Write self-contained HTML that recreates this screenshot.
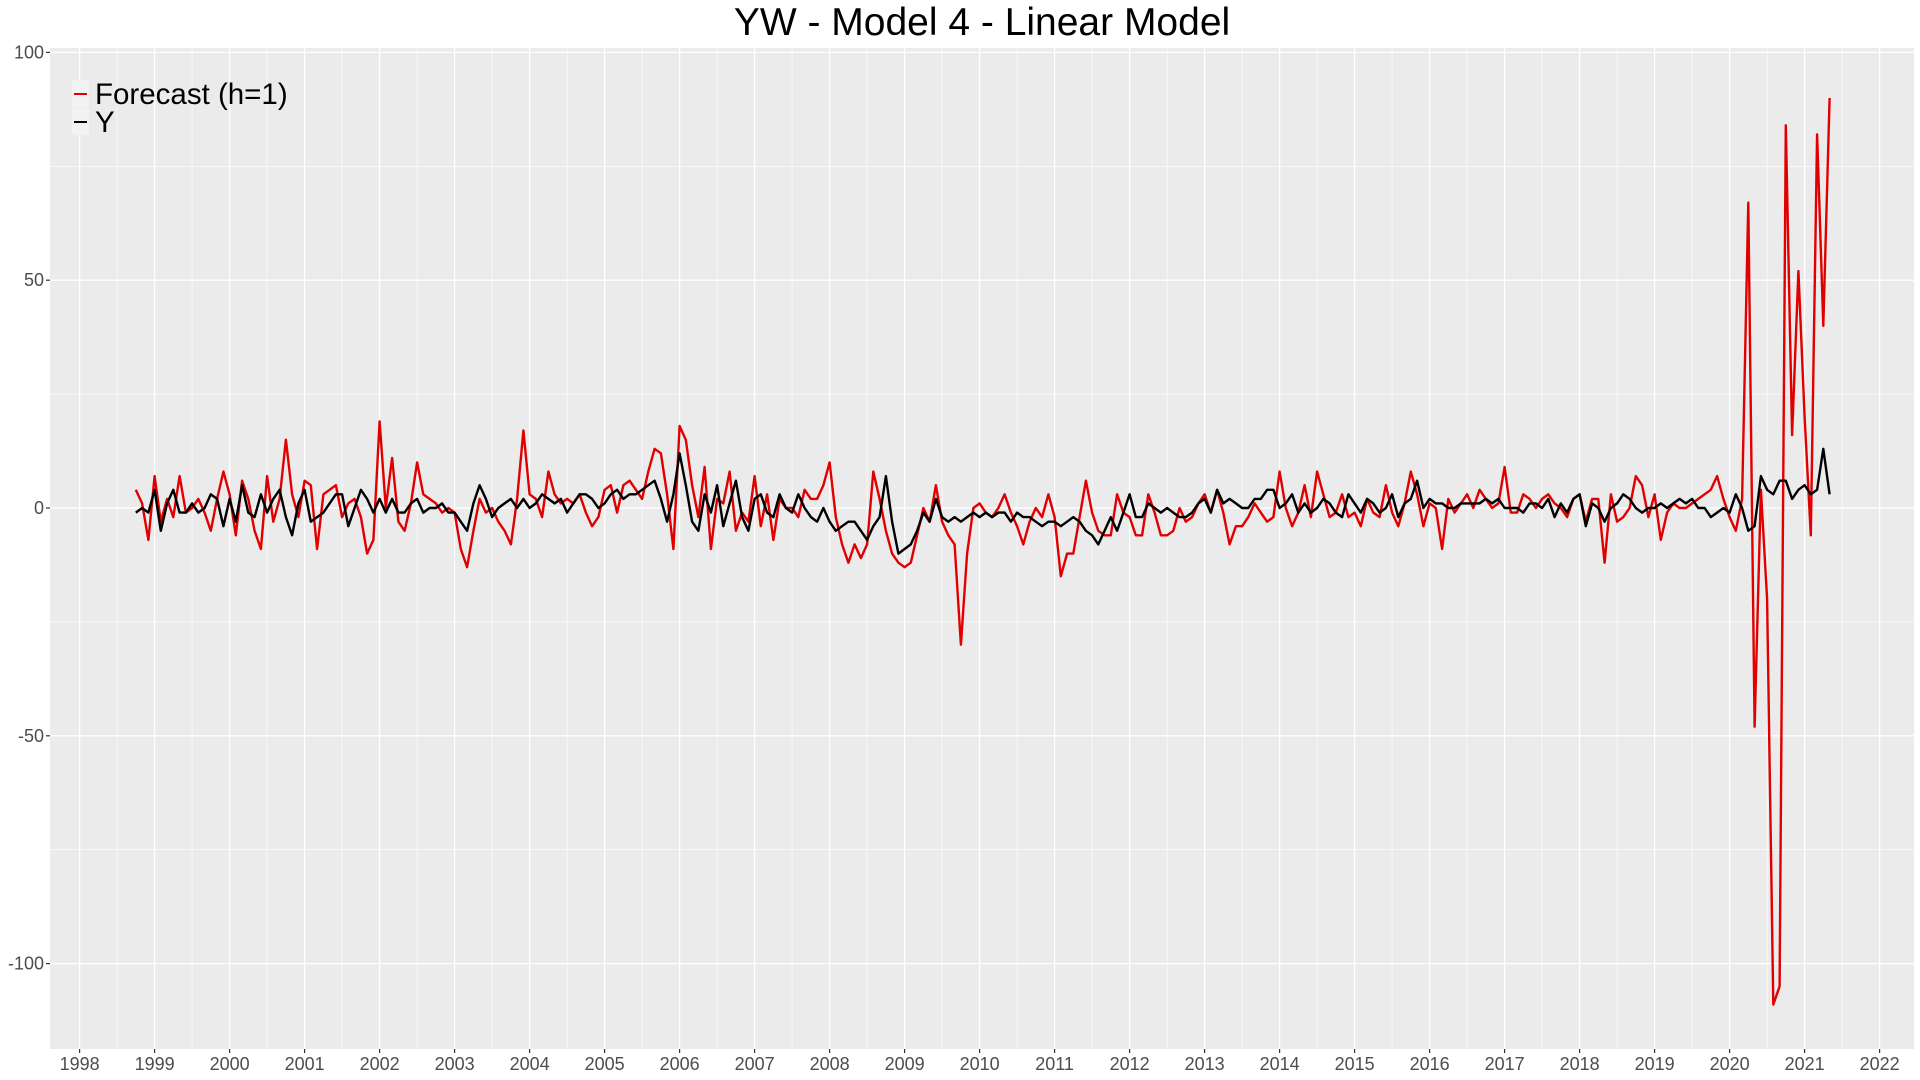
<!DOCTYPE html>
<html><head><meta charset="utf-8"><style>
html,body{margin:0;padding:0;background:#fff;}
svg{display:block;font-family:"Liberation Sans",sans-serif;}
</style></head><body>
<svg id="chart" width="1920" height="1080" viewBox="0 0 1920 1080" xmlns="http://www.w3.org/2000/svg">
<rect width="1920" height="1080" fill="#fff"/>
<text x="982" y="35" font-size="39" text-anchor="middle" fill="#000">YW - Model 4 - Linear Model</text>
<rect id="panel" x="50" y="48" width="1864" height="1001" fill="#EBEBEB"/>
<g id="grid"></g>
<g id="axes"></g>
<g id="series"></g>
<g>
<rect x="72" y="80" width="17" height="27" fill="#F2F2F2"/>
<line x1="74" y1="94" x2="87" y2="94" stroke="#e00000" stroke-width="2"/>
<text x="95" y="104" font-size="29.5" fill="#000">Forecast (h=1)</text>
<rect x="72" y="108" width="17" height="27" fill="#F2F2F2"/>
<line x1="74" y1="122" x2="87" y2="122" stroke="#000" stroke-width="2"/>
<text x="95" y="132" font-size="29.5" fill="#000">Y</text>
</g>
</svg>
<script>
const startYear = 1998, startMonth = 9; // Oct 1998 (0-based month)
const yTicks = [100, 50, 0, -50, -100];
const xTickYears = [1998,1999,2000,2001,2002,2003,2004,2005,2006,2007,2008,2009,2010,2011,2012,2013,2014,2015,2016,2017,2018,2019,2020,2021,2022];
const forecast = [
4,1,-7,
7,-3,2,-2,7,-1,0,2,-1,-5,2,8,
3,-6,6,2,-5,-9,7,-3,2,15,3,-2,
6,5,-9,3,4,5,-2,1,2,-2,-10,-7,
19,0,11,-3,-5,1,10,3,2,1,-1,0,
-1,-9,-13,-5,2,-1,0,-3,-5,-8,2,17,
3,2,-2,8,3,1,2,1,3,-1,-4,-2,
4,5,-1,5,6,4,2,8,13,12,3,-9,
18,15,5,-2,9,-9,2,1,8,-5,-1,-3,
7,-4,3,-7,2,0,0,-2,4,2,2,5,
10,-2,-8,-12,-8,-11,-8,8,2,-5,-10,-12,
-13,-12,-6,0,-3,5,-3,-6,-8,-30,-10,0,
1,-1,-2,0,3,-1,-4,-8,-3,0,-2,3,
-2,-15,-10,-10,-2,6,-1,-5,-6,-6,3,-1,
-2,-6,-6,3,-1,-6,-6,-5,0,-3,-2,1,
3,-1,4,-1,-8,-4,-4,-2,1,-1,-3,-2,
8,0,-4,-1,5,-2,8,3,-2,-1,3,-2,
-1,-4,2,-1,-2,5,-1,-4,1,8,3,-4,
1,0,-9,2,-1,1,3,0,4,2,0,1,
9,-1,-1,3,2,0,2,3,1,0,-2,2,
3,-3,2,2,-12,3,-3,-2,0,7,5,-2,
3,-7,-1,1,0,0,1,2,3,4,7,2,
-2,-5,2,67,-48,4,-20,-109,-105,84,16,52,
20,-6,82,40,90
];
const actual = [
-1,0,-1,
4,-5,1,4,-1,-1,1,-1,0,3,2,-4,
2,-3,5,-1,-2,3,-1,2,4,-2,-6,1,
4,-3,-2,-1,1,3,3,-4,0,4,2,-1,
2,-1,2,-1,-1,1,2,-1,0,0,1,-1,
-1,-3,-5,1,5,2,-2,0,1,2,0,2,
0,1,3,2,1,2,-1,1,3,3,2,0,
1,3,4,2,3,3,4,5,6,2,-3,3,
12,5,-3,-5,3,-1,5,-4,1,6,-2,-5,
2,3,-1,-2,3,0,-1,3,0,-2,-3,0,
-3,-5,-4,-3,-3,-5,-7,-4,-2,7,-3,-10,
-9,-8,-5,-1,-3,2,-2,-3,-2,-3,-2,-1,
-2,-1,-2,-1,-1,-3,-1,-2,-2,-3,-4,-3,
-3,-4,-3,-2,-3,-5,-6,-8,-5,-2,-5,-1,
3,-2,-2,1,0,-1,0,-1,-2,-2,-1,1,
2,-1,4,1,2,1,0,0,2,2,4,4,
0,1,3,-1,1,-1,0,2,1,-1,-2,3,
1,-1,2,1,-1,0,3,-2,1,2,6,0,
2,1,1,0,0,1,1,1,1,2,1,2,
0,0,0,-1,1,1,0,2,-2,1,-1,2,
3,-4,1,0,-3,0,1,3,2,0,-1,0,
0,1,0,1,2,1,2,0,0,-2,-1,0,
-1,3,0,-5,-4,7,4,3,6,6,2,4,
5,3,4,13,3
];
const NS = "http://www.w3.org/2000/svg";
const PL = 50, PR = 1914, PT = 48, PB = 1049;
function xs(year){ return 79.6 + (year - 1998) * 75; }
function ys(v){ return 508 - v * 4.556; }
function mk(tag, attrs, parent){ const e = document.createElementNS(NS, tag); for (const k in attrs) e.setAttribute(k, attrs[k]); parent.appendChild(e); return e; }
const grid = document.getElementById('grid'), axes = document.getElementById('axes'), series = document.getElementById('series');
for (let i = 0; i < yTicks.length - 1; i++) {
  const v = (yTicks[i] + yTicks[i+1]) / 2;
  const l = mk('line', {x1: PL, x2: PR, y1: ys(v), y2: ys(v), stroke: '#fff', 'stroke-width': 0.6}, grid);
  
  
}
for (let i = 0; i < xTickYears.length - 1; i++) {
  const x = xs(xTickYears[i] + 0.5);
  const l = mk('line', {x1: x, x2: x, y1: PT, y2: PB, stroke: '#fff', 'stroke-width': 0.6}, grid);
  
  
}
yTicks.forEach(v => {
  const y = ys(v);
  const l = mk('line', {x1: PL, x2: PR, y1: y, y2: y, stroke: '#fff', 'stroke-width': 1.3}, grid);
  
  
  mk('line', {x1: PL - 4, x2: PL, y1: y, y2: y, stroke: '#333', 'stroke-width': 1.2}, axes);
  const t = mk('text', {x: PL - 6, y: y + 6, 'font-size': 18, 'text-anchor': 'end', fill: '#4D4D4D'}, axes);
  t.textContent = String(v);
  
  
});
xTickYears.forEach(yr => {
  const x = xs(yr);
  const l = mk('line', {x1: x, x2: x, y1: PT, y2: PB, stroke: '#fff', 'stroke-width': 1.3}, grid);
  
  
  mk('line', {x1: x, x2: x, y1: PB, y2: PB + 4, stroke: '#333', 'stroke-width': 1.2}, axes);
  const t = mk('text', {x: x, y: PB + 21, 'font-size': 18, 'text-anchor': 'middle', fill: '#4D4D4D'}, axes);
  t.textContent = String(yr);
  
  
});
function pathFor(arr){
  return arr.map((v, i) => {
    const m = startMonth + i;
    const yr = startYear + m / 12;
    return (i ? 'L' : 'M') + xs(yr).toFixed(1) + ',' + ys(v).toFixed(1);
  }).join(' ');
}
const pf = mk('path', {d: pathFor(forecast), fill: 'none', stroke: '#e00000', 'stroke-width': 2.4, 'stroke-linejoin': 'round'}, series);


const pa = mk('path', {d: pathFor(actual), fill: 'none', stroke: '#000', 'stroke-width': 2.4, 'stroke-linejoin': 'round'}, series);


</script>
</body></html>
